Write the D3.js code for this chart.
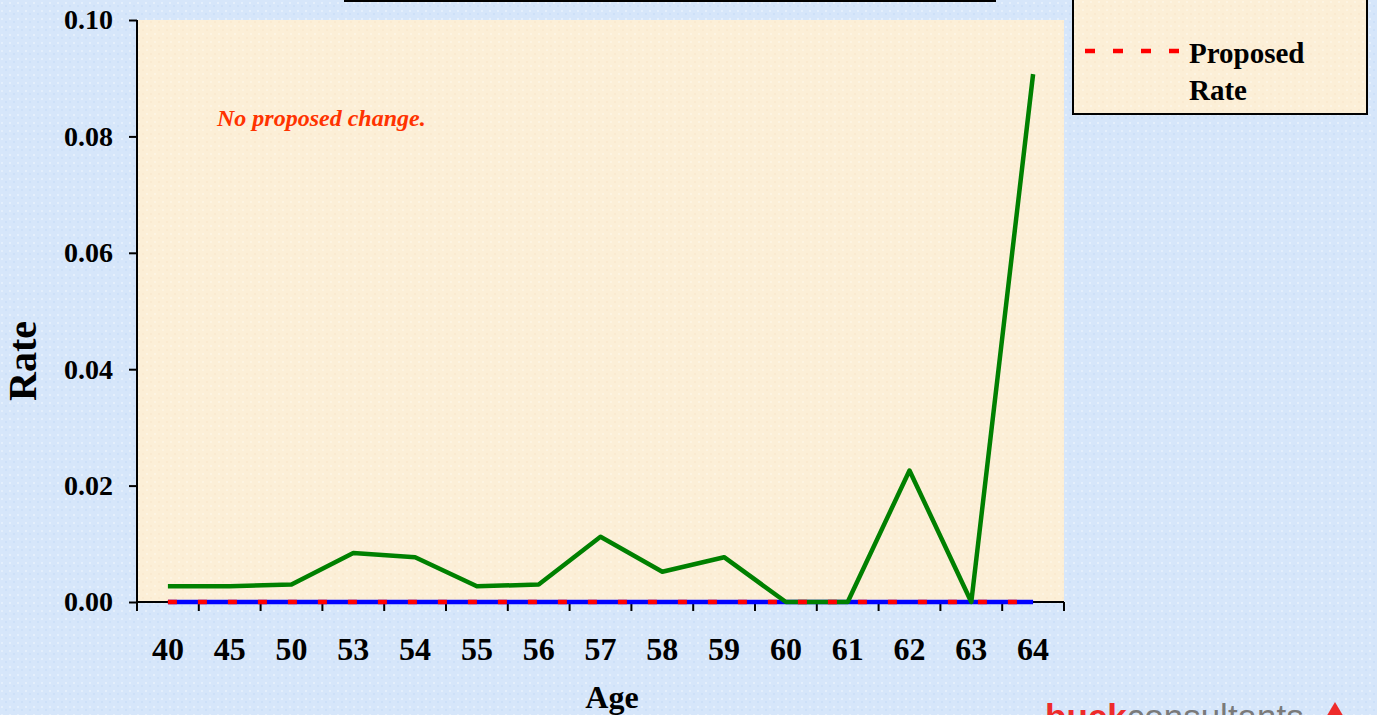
<!DOCTYPE html>
<html><head><meta charset="utf-8">
<script src="https://cdn.jsdelivr.net/npm/d3@7/dist/d3.min.js"></script>
<style>
html,body{margin:0;padding:0;background:#d7e7fb;overflow:hidden;}
text{font-family:"Liberation Serif","Times New Roman",serif;font-weight:bold;}
</style></head>
<body>
<svg id="c" width="1377" height="715"></svg>
<script>
const ages = ["40","45","50","53","54","55","56","57","58","59","60","61","62","63","64"];
const actualRate = [0.0027,0.0027,0.0030,0.0084,0.0077,0.0027,0.0030,0.0112,0.0052,0.0077,0,0,0.0226,0,0.0907];
const currentRate = [0,0,0,0,0,0,0,0,0,0,0,0,0,0,0];
const proposedRate = [0,0,0,0,0,0,0,0,0,0,0,0,0,0,0];
const yTicks = [0,0.02,0.04,0.06,0.08,0.10];

const svg = d3.select("#c");
const W=1377,H=715;
const m={left:137,right:1064,top:20,bottom:602};

// background texture
const defs = svg.append("defs");
const pb = defs.append("pattern").attr("id","bg").attr("width",8).attr("height",8).attr("patternUnits","userSpaceOnUse");
pb.append("rect").attr("width",8).attr("height",8).attr("fill","#d6e6fa");
pb.append("rect").attr("x",1).attr("y",2).attr("width",2).attr("height",2).attr("fill","#e4effc");
pb.append("rect").attr("x",5).attr("y",5).attr("width",2).attr("height",2).attr("fill","#cde0f8");
const pp = defs.append("pattern").attr("id","pl").attr("width",8).attr("height",8).attr("patternUnits","userSpaceOnUse");
pp.append("rect").attr("width",8).attr("height",8).attr("fill","#fcefd7");
pp.append("rect").attr("x",2).attr("y",1).attr("width",2).attr("height",2).attr("fill","#fdf4e2");
pp.append("rect").attr("x",6).attr("y",5).attr("width",2).attr("height",2).attr("fill","#faead0");

svg.append("rect").attr("width",W).attr("height",H).attr("fill","url(#bg)");

// title box (mostly off-canvas)
svg.append("rect").attr("x",345).attr("y",-60).attr("width",650).attr("height",61)
  .attr("fill","#fcefd7").attr("stroke","#000").attr("stroke-width",2);

const x = d3.scaleBand().domain(ages).range([m.left,m.right]).padding(0);
const y = d3.scaleLinear().domain([0,0.10]).range([m.bottom,m.top]);
const cx = d=>x(d)+x.bandwidth()/2;

// plot area
svg.append("rect").attr("x",m.left).attr("y",m.top).attr("width",m.right-m.left).attr("height",m.bottom-m.top)
  .attr("fill","url(#pl)");

// y axis
const ya = svg.append("g").attr("transform",`translate(${m.left},0)`)
  .call(d3.axisLeft(y).tickValues(yTicks).tickFormat(d3.format(".2f")).tickSize(8).tickPadding(16));
ya.select(".domain").attr("stroke","#000").attr("stroke-width",2).attr("d",`M0,${m.top}V${m.bottom}`);
ya.selectAll(".tick line").attr("stroke","#000").attr("stroke-width",2);
ya.selectAll(".tick text").attr("font-size",28).attr("fill","#000")
  .style("font-family","'Liberation Serif',serif").style("font-weight","bold");

// x axis
const xa = svg.append("g").attr("transform",`translate(0,${m.bottom})`)
  .call(d3.axisBottom(x).tickSize(0).tickPadding(35));
xa.select(".domain").attr("stroke","#000").attr("stroke-width",2).attr("d",`M${m.left},0H${m.right}`);
xa.selectAll(".tick text").attr("font-size",32).attr("fill","#000")
  .style("font-family","'Liberation Serif',serif").style("font-weight","bold");
const bounds = ages.map(a=>x(a)).concat([m.right]);
xa.selectAll("line.bt").data(bounds).join("line").attr("class","bt")
  .attr("x1",d=>d).attr("x2",d=>d).attr("y1",0).attr("y2",9).attr("stroke","#000").attr("stroke-width",2);

// lines: blue, then green on top, then red dashes
const line = d3.line().x((d,i)=>cx(ages[i])).y(d=>y(d));
svg.append("path").datum(currentRate).attr("d",line).attr("fill","none").attr("stroke","#0000ff").attr("stroke-width",4.5);
svg.append("path").datum(actualRate).attr("d",line).attr("fill","none").attr("stroke","#008000").attr("stroke-width",4.5).attr("stroke-linejoin","round");
svg.append("path").datum(proposedRate).attr("d",line).attr("fill","none").attr("stroke","#ff0000").attr("stroke-width",4.5).attr("stroke-dasharray","9,21");

// annotation
svg.append("text").attr("x",217).attr("y",126).attr("font-size",24).attr("font-style","italic")
  .attr("fill","#ff3300").text("No proposed change.");

// axis titles
svg.append("text").attr("transform","translate(36,361) rotate(-90)").attr("text-anchor","middle")
  .attr("font-size",40).attr("fill","#000").text("Rate");
svg.append("text").attr("x",612).attr("y",708).attr("text-anchor","middle")
  .attr("font-size",32).attr("fill","#000").text("Age");

// legend
svg.append("rect").attr("x",1073).attr("y",-60).attr("width",294).attr("height",174)
  .attr("fill","url(#pl)").attr("stroke","#000").attr("stroke-width",2);
svg.append("line").attr("x1",1085).attr("x2",1181).attr("y1",51).attr("y2",51)
  .attr("stroke","#ff0000").attr("stroke-width",4.5).attr("stroke-dasharray","10,18");
svg.append("text").attr("x",1189).attr("y",63).attr("font-size",29).attr("fill","#000").text("Proposed");
svg.append("text").attr("x",1189).attr("y",100).attr("font-size",29).attr("fill","#000").text("Rate");

// logo (cut off at bottom, as in the reference)
const lg = svg.append("text").attr("x",1045).attr("y",729).style("font-family","'Liberation Sans',Arial,sans-serif").attr("font-size",35);
lg.append("tspan").attr("fill","#ee2b2b").style("font-weight","bold").text("buck");
lg.append("tspan").attr("fill","#7a7a7a").style("font-weight","normal").text("consultants");
svg.append("path").attr("d","M1335,702 L1348,724 L1322,724 Z").attr("fill","#ee2b2b");
</script>
</body></html>
